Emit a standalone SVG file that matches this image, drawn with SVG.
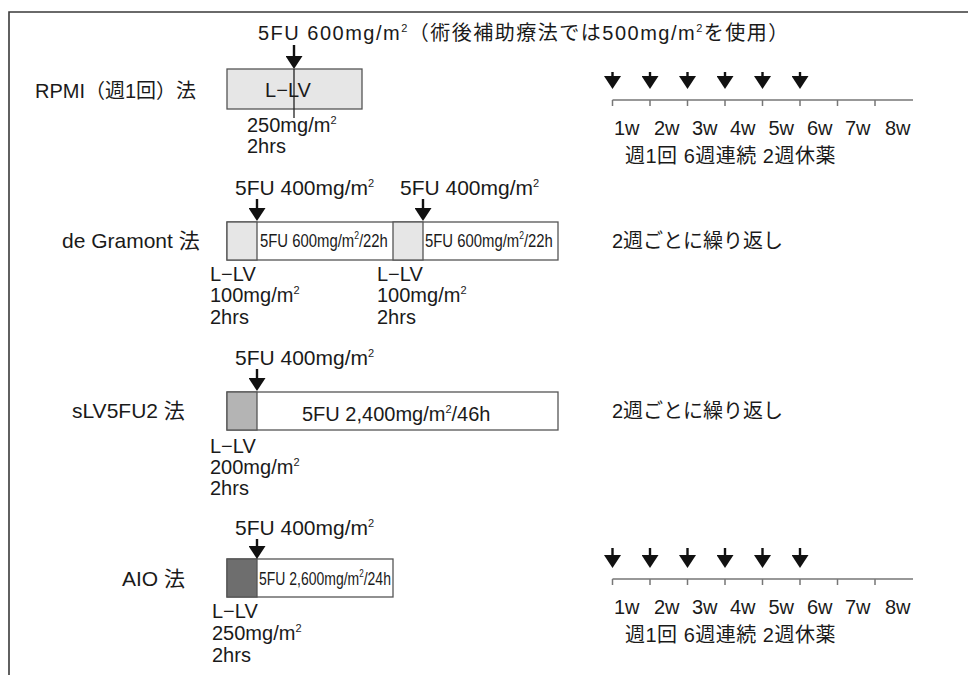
<svg xmlns="http://www.w3.org/2000/svg" width="968" height="675" viewBox="0 0 968 675">
<defs>
<style>
text{font-family:"Liberation Sans","Noto Sans CJK JP",sans-serif;font-size:20px;fill:#1a1a1a}
.c{font-size:19px}
.d{font-size:21px}
.sup{font-size:11px}
.box{stroke:#555;stroke-width:1.3}
.div{stroke:#222;stroke-width:1.3;fill:none}
.arr{stroke:#111;stroke-width:2.4;fill:none;marker-end:url(#ah)}
.tl{stroke:#777;stroke-width:1.5;fill:none}
</style>
<marker id="ah" viewBox="0 -8.5 13 17" refX="6" refY="0" markerWidth="13" markerHeight="17" markerUnits="userSpaceOnUse" orient="auto">
<path d="M0,-8.5 L13,0 L0,8.5 z" fill="#111"/>
</marker>
</defs>
<rect width="968" height="675" fill="#fff"/>
<path d="M9,675 V12 H968" fill="none" stroke="#3a3a3a" stroke-width="1.6"/>

<g id="title">
<text x="258" y="40" font-size="21" letter-spacing="1.5">5FU 600mg/m<tspan class="sup" dy="-8">2</tspan><tspan dy="8">（術後補助療法では500mg/m</tspan><tspan class="sup" dy="-8">2</tspan><tspan dy="8">を使用）</tspan></text>
</g>

<g id="rpmi">
<text x="35" y="98">RPMI（週1回）法</text>
<rect class="box" x="227" y="69" width="135" height="40" fill="#e6e6e6"/>
<line class="div" x1="294" y1="69" x2="294" y2="118"/>
<text x="288" y="97" text-anchor="middle">L−LV</text>
<text x="247" y="132">250mg/m<tspan class="sup" dy="-8">2</tspan></text>
<text x="247" y="153">2hrs</text>
</g>

<g id="timeline1">
<path class="tl" d="M612.5,100 H913 M612.5,100 v6 M650,100 v6 M687.5,100 v6 M725,100 v6 M762.5,100 v6 M800,100 v6 M837.5,100 v6 M875,100 v6"/>
<text x="614" y="135">1w</text><text x="654" y="135">2w</text><text x="692" y="135">3w</text><text x="730" y="135">4w</text><text x="768.5" y="135">5w</text><text x="807" y="135">6w</text><text x="845" y="135">7w</text><text x="885" y="135">8w</text>
<text x="625" y="163" letter-spacing="0.5">週1回 6週連続 2週休薬</text>
</g>

<g id="degramont">
<text x="62" y="248" class="d">de Gramont 法</text>
<text x="235" y="195" class="d">5FU 400mg/m<tspan class="sup" dy="-8">2</tspan></text>
<text x="400" y="195" class="d">5FU 400mg/m<tspan class="sup" dy="-8">2</tspan></text>
<rect class="box" x="227" y="222" width="331" height="38" fill="#fff"/>
<rect class="box" x="227" y="222" width="30" height="38" fill="#e6e6e6"/>
<rect class="box" x="393" y="222" width="30" height="38" fill="#e6e6e6"/>
<text class="c" transform="translate(260,247) scale(0.783,1)">5FU 600mg/m<tspan class="sup" dy="-8">2</tspan><tspan dy="8">/22h</tspan></text>
<text class="c" transform="translate(425,247) scale(0.783,1)">5FU 600mg/m<tspan class="sup" dy="-8">2</tspan><tspan dy="8">/22h</tspan></text>
<text x="210" y="281">L−LV</text>
<text x="210" y="302">100mg/m<tspan class="sup" dy="-8">2</tspan></text>
<text x="210" y="324">2hrs</text>
<text x="377" y="281">L−LV</text>
<text x="377" y="302">100mg/m<tspan class="sup" dy="-8">2</tspan></text>
<text x="377" y="324">2hrs</text>
<text x="612" y="248">2週ごとに繰り返し</text>
</g>

<g id="slv5fu2">
<text x="72" y="418" class="d">sLV5FU2 法</text>
<text x="235" y="365" class="d">5FU 400mg/m<tspan class="sup" dy="-8">2</tspan></text>
<rect class="box" x="227" y="392" width="331" height="38" fill="#fff"/>
<rect class="box" x="227" y="392" width="30" height="38" fill="#b4b4b4"/>
<text x="302" y="421" font-size="21.5">5FU 2,400mg/m<tspan class="sup" dy="-8">2</tspan><tspan dy="8">/46h</tspan></text>
<text x="210" y="453">L−LV</text>
<text x="210" y="474">200mg/m<tspan class="sup" dy="-8">2</tspan></text>
<text x="210" y="495">2hrs</text>
<text x="612" y="418">2週ごとに繰り返し</text>
</g>

<g id="aio">
<text x="122" y="586" class="d">AIO 法</text>
<text x="235" y="535" class="d">5FU 400mg/m<tspan class="sup" dy="-8">2</tspan></text>
<rect class="box" x="227" y="559" width="166" height="38" fill="#fff"/>
<rect class="box" x="227" y="559" width="30" height="38" fill="#6e6e6e"/>
<text class="c" transform="translate(259,585) scale(0.736,1)">5FU 2,600mg/m<tspan class="sup" dy="-8">2</tspan><tspan dy="8">/24h</tspan></text>
<text x="212" y="618">L−LV</text>
<text x="212" y="640">250mg/m<tspan class="sup" dy="-8">2</tspan></text>
<text x="212" y="662">2hrs</text>
</g>

<g id="timeline2">
<path class="tl" d="M612.5,579 H913 M612.5,579 v6 M650,579 v6 M687.5,579 v6 M725,579 v6 M762.5,579 v6 M800,579 v6 M837.5,579 v6 M875,579 v6"/>
<text x="614" y="614">1w</text><text x="654" y="614">2w</text><text x="692" y="614">3w</text><text x="730" y="614">4w</text><text x="768.5" y="614">5w</text><text x="807" y="614">6w</text><text x="845" y="614">7w</text><text x="885" y="614">8w</text>
<text x="625" y="642" letter-spacing="0.5">週1回 6週連続 2週休薬</text>
</g>

<g id="connectors">
<line class="arr" x1="294" y1="45" x2="294" y2="62"/>
<line class="arr" x1="257" y1="199" x2="257" y2="214"/>
<line class="arr" x1="423" y1="199" x2="423" y2="214"/>
<line class="arr" x1="257" y1="369" x2="257" y2="384"/>
<line class="arr" x1="257" y1="539" x2="257" y2="552"/>
<line class="arr" x1="612.5" y1="72" x2="612.5" y2="82"/>
<line class="arr" x1="650" y1="72" x2="650" y2="82"/>
<line class="arr" x1="687.5" y1="72" x2="687.5" y2="82"/>
<line class="arr" x1="725" y1="72" x2="725" y2="82"/>
<line class="arr" x1="762.5" y1="72" x2="762.5" y2="82"/>
<line class="arr" x1="800" y1="72" x2="800" y2="82"/>
<line class="arr" x1="612.5" y1="548" x2="612.5" y2="561"/>
<line class="arr" x1="650" y1="548" x2="650" y2="561"/>
<line class="arr" x1="687.5" y1="548" x2="687.5" y2="561"/>
<line class="arr" x1="725" y1="548" x2="725" y2="561"/>
<line class="arr" x1="762.5" y1="548" x2="762.5" y2="561"/>
<line class="arr" x1="800" y1="548" x2="800" y2="561"/>
</g>
</svg>
